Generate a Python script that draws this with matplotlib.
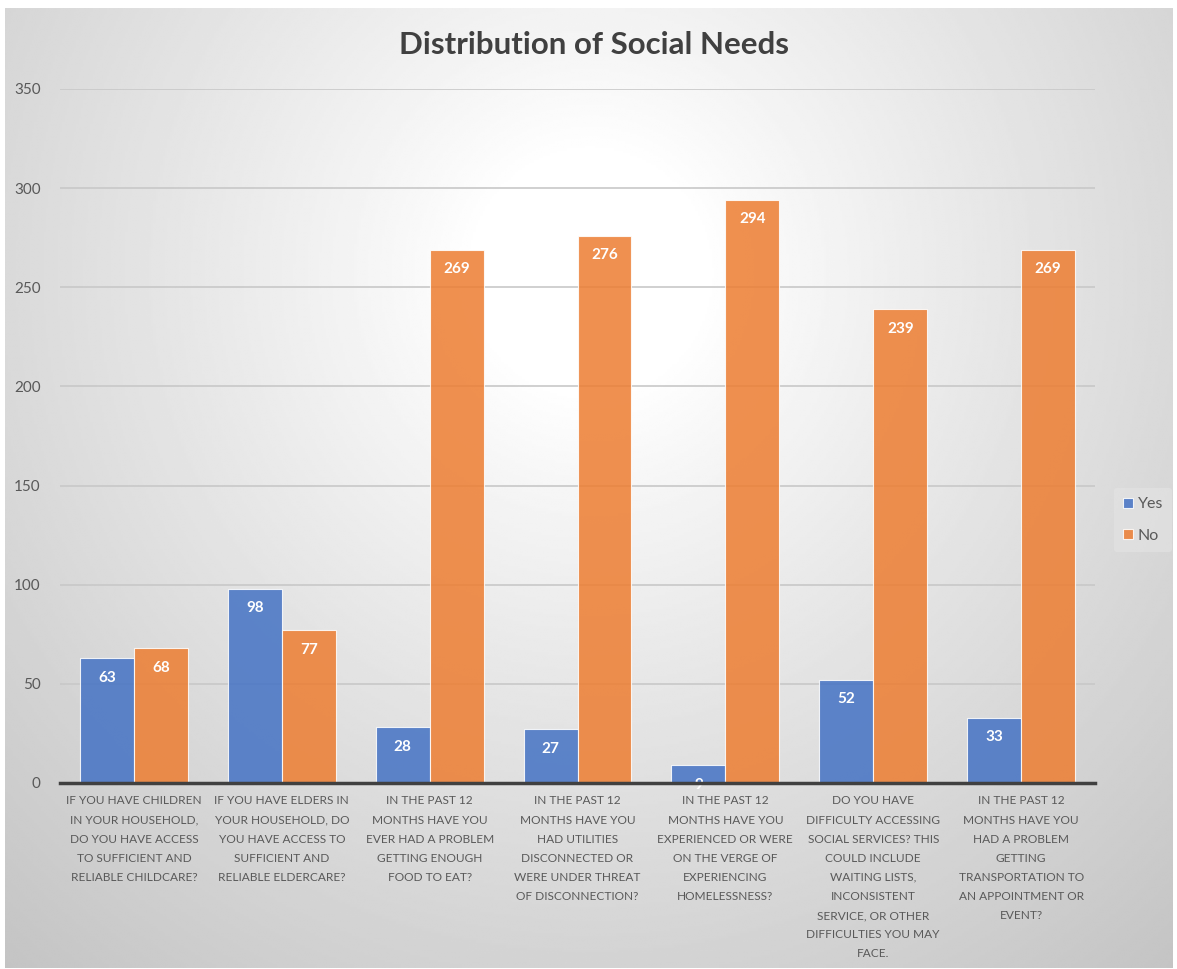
import matplotlib
matplotlib.use('Agg')
import matplotlib.pyplot as plt
import numpy as np

# data
categories = [
    "IF YOU HAVE CHILDREN\nIN YOUR HOUSEHOLD,\nDO YOU HAVE ACCESS\nTO SUFFICIENT AND\nRELIABLE CHILDCARE?",
    "IF YOU HAVE ELDERS IN\nYOUR HOUSEHOLD, DO\nYOU HAVE ACCESS TO\nSUFFICIENT AND\nRELIABLE ELDERCARE?",
    "IN THE PAST 12\nMONTHS HAVE YOU\nEVER HAD A PROBLEM\nGETTING ENOUGH\nFOOD TO EAT?",
    "IN THE PAST 12\nMONTHS HAVE YOU\nHAD UTILITIES\nDISCONNECTED OR\nWERE UNDER THREAT\nOF DISCONNECTION?",
    "IN THE PAST 12\nMONTHS HAVE YOU\nEXPERIENCED OR WERE\nON THE VERGE OF\nEXPERIENCING\nHOMELESSNESS?",
    "DO YOU HAVE\nDIFFICULTY ACCESSING\nSOCIAL SERVICES? THIS\nCOULD INCLUDE\nWAITING LISTS,\nINCONSISTENT\nSERVICE, OR OTHER\nDIFFICULTIES YOU MAY\nFACE.",
    "IN THE PAST 12\nMONTHS HAVE YOU\nHAD A PROBLEM\nGETTING\nTRANSPORTATION TO\nAN APPOINTMENT OR\nEVENT?",
]
yes_vals = [63, 98, 28, 27, 9, 52, 33]
no_vals = [68, 77, 269, 276, 294, 239, 269]
y_ticks = [0, 50, 100, 150, 200, 250, 300, 350]

plt.rcParams['font.family'] = ['Lato', 'DejaVu Sans']

W, H = 1177, 969
fig = plt.figure(figsize=(W / 100, H / 100), dpi=100)
fig.patch.set_facecolor('white')

# radial gradient background like the Excel chart area
bg = fig.add_axes([5 / W, 1 / H, (1173 - 5) / W, (961 - 1) / H])
bg.set_axis_off()
yy, xx = np.mgrid[0:400, 0:500]
cx, cy = 250, 110
d = np.sqrt(((xx - cx) / 330.0) ** 2 + ((yy - cy) / 330.0) ** 2)
shade = 1.0 - 0.23 * np.clip(d - 0.15, 0, None) ** 0.9
shade = np.clip(shade, 0.76, 1.0)
bg.imshow(shade, cmap='gray', vmin=0, vmax=1, aspect='auto', interpolation='bilinear')

ax = fig.add_axes([60 / W, (H - 783) / H, (1095 - 60) / W, (783 - 89) / H])
ax.set_facecolor('none')

x = np.arange(len(categories))
w = 0.365
b1 = ax.bar(x - w / 2, yes_vals, w, color='#4472C4', alpha=0.85,
            edgecolor='#FFFFFF', linewidth=0.8, zorder=2, label='Yes')
b2 = ax.bar(x + w / 2, no_vals, w, color='#ED7D31', alpha=0.85,
            edgecolor='#FFFFFF', linewidth=0.8, zorder=2, label='No')

for bars in (b1, b2):
    for r in bars:
        h = r.get_height()
        t = ax.annotate(f"{h:g}", (r.get_x() + r.get_width() / 2, h),
                        xytext=(0, -14), textcoords='offset points',
                        ha='center', va='center', color='white',
                        fontsize=11, fontweight='bold', zorder=3)
        t.set_clip_on(True)

ax.set_ylim(0, 350)
ax.set_xlim(-0.5, len(categories) - 0.5)
ax.set_yticks(y_ticks)
ax.yaxis.grid(True, color='#C8C8C8', linewidth=1.2, zorder=1)
ax.set_axisbelow(True)
for s in ['top', 'right', 'left']:
    ax.spines[s].set_visible(False)
ax.spines['bottom'].set_color('#404040')
ax.spines['bottom'].set_linewidth(2.5)
ax.spines['bottom'].set_zorder(4)
ax.tick_params(axis='y', length=0, pad=14, labelsize=11, labelcolor='#595959')
ax.tick_params(axis='x', length=0, pad=9)
ax.set_xticks(x)
ax.set_xticklabels(categories, fontsize=8.6, color='#595959', linespacing=1.9)

fig.text(594 / W, 1 - 45 / H, 'Distribution of Social Needs', ha='center', va='center',
         fontsize=22.5, fontweight='bold', color='#404040')

fig.legend(handles=[b1, b2], labels=['Yes', 'No'], loc='center',
           bbox_to_anchor=(1143 / W, 1 - 520 / H), frameon=True, facecolor='#E4E4E4',
           edgecolor='none', framealpha=0.6, fontsize=11.5, labelcolor='#595959',
           handlelength=0.6, handleheight=0.6, handletextpad=0.3, labelspacing=1.1,
           borderpad=0.6)

plt.savefig('out.png', dpi=100)
